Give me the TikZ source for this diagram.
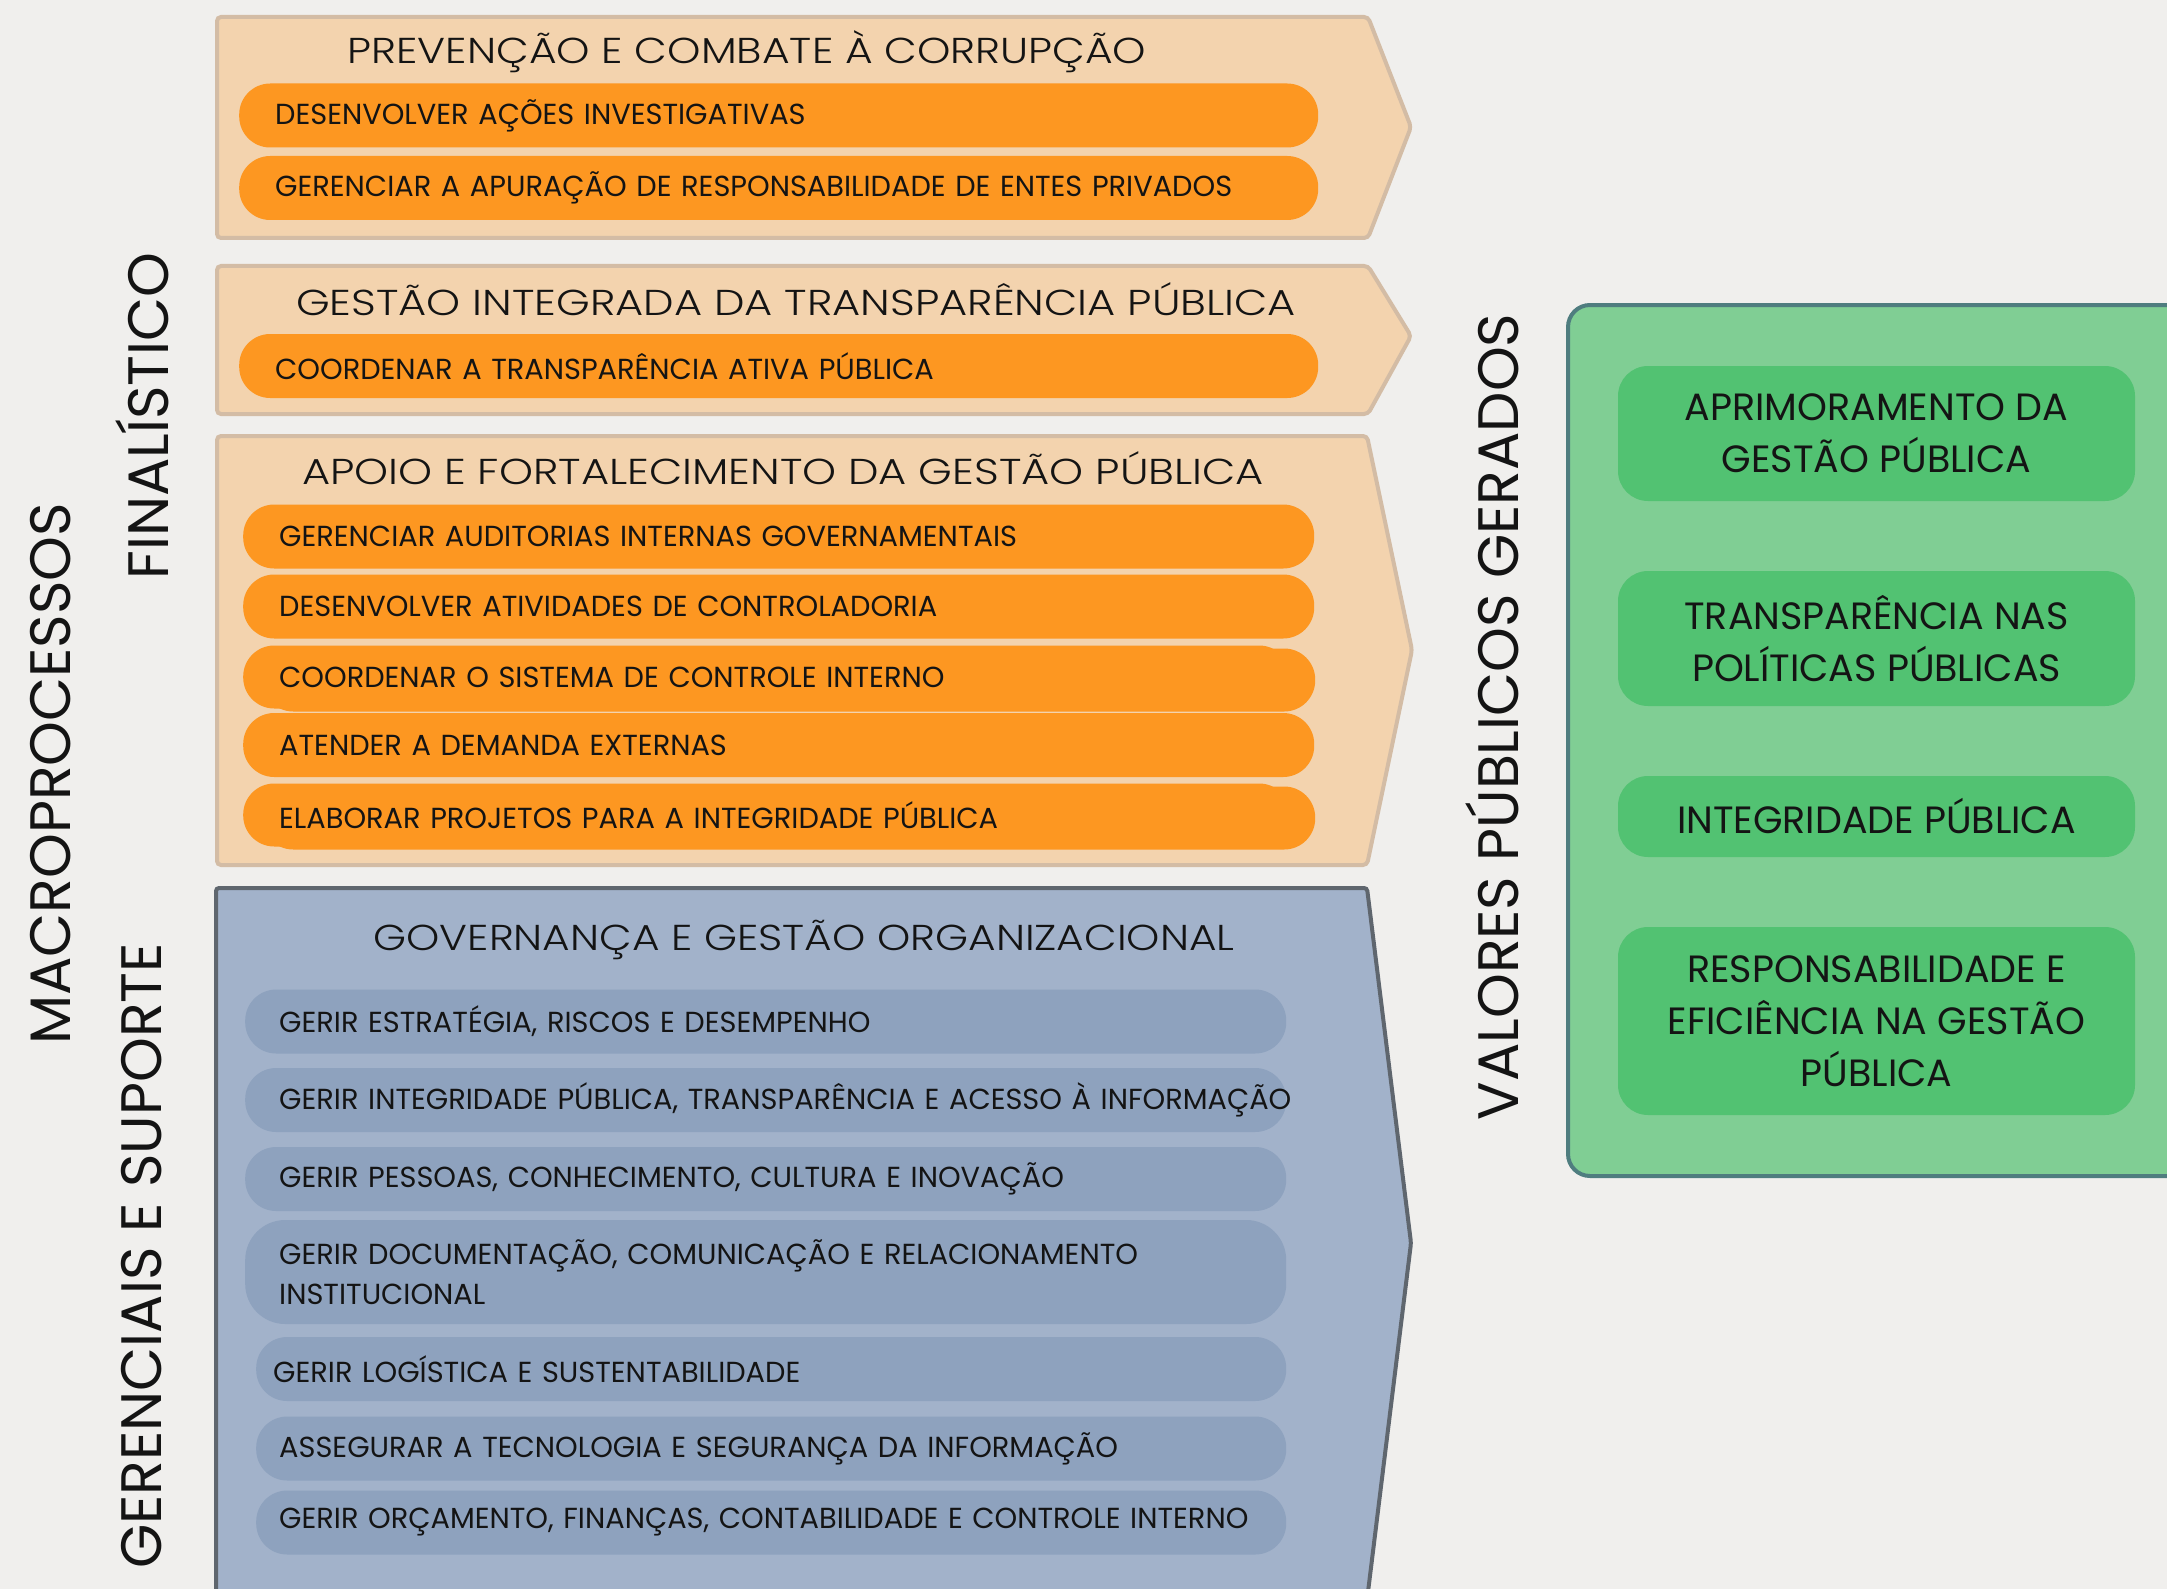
\documentclass[tikz,border=0pt]{standalone}
\usepackage{fontspec}
\setmainfont{Poppins}
\newfontfamily\titlefont{Poppins Light}
\usepackage{graphicx}
\definecolor{bgc}{HTML}{F0EFED}
\definecolor{tanfill}{HTML}{F3D3AE}
\definecolor{tanline}{HTML}{D3BCA5}
\definecolor{orng}{HTML}{FD9721}
\definecolor{bluefill}{HTML}{A2B2CA}
\definecolor{bluepill}{HTML}{8EA2BE}
\definecolor{blueline}{HTML}{5F666E}
\definecolor{grnfill}{HTML}{80CE94}
\definecolor{grnline}{HTML}{4F7D7F}
\definecolor{grnbox}{HTML}{52C272}
\definecolor{txt}{HTML}{141414}
\newcommand{\sq}[1]{\scalebox{0.994}[1]{#1}}
\newcommand{\wide}[2]{\scalebox{#1}[1]{#2}}
\begin{document}
\begin{tikzpicture}[x=1pt,y=-1pt,
  tanbanner/.style={fill=tanfill,draw=tanline,line width=4pt,rounded corners=4pt},
  bluebanner/.style={fill=bluefill,draw=blueline,line width=4pt,rounded corners=3pt},
  pillbase/.style={anchor=west,inner xsep=36pt,inner ysep=0pt,align=left,text=txt,
     font=\fontsize{29}{40}\selectfont,rounded corners=31pt},
  opill/.style={pillbase,fill=orng,minimum height=64pt},
  bpill/.style={pillbase,fill=bluepill,minimum height=64pt,inner xsep=34pt},
  btitle/.style={text=txt,font=\titlefont\fontsize{36}{40}\selectfont,inner sep=0pt},
  sidelabel/.style={text=txt,font=\fontsize{57}{60}\selectfont,rotate=90,inner sep=0pt},
  gbox/.style={fill=grnbox,rounded corners=30pt,minimum width=517pt,text=txt,
     align=center,font=\fontsize{38}{52}\selectfont,inner sep=0pt}
]
\fill[bgc] (0,0) rectangle (2167,1589);
\useasboundingbox (0,0) rectangle (2167,1589);
\clip (0,0) rectangle (2167,1589);

% banner 1
\draw[tanbanner] (217,17) -- (1368,17) -- (1411,127) -- (1368,238) -- (217,238) -- cycle;
\node[btitle] (t1) at (747,52) {\wide{1.18}{PREVENÇÃO E COMBATE À CORRUPÇÃO}};
\node[opill,text width=1007pt] (o1) at (239,115.5) {\sq{DESENVOLVER AÇÕES INVESTIGATIVAS}};
\node[opill,text width=1007pt] (o2) at (239,188) {\sq{GERENCIAR A APURAÇÃO DE RESPONSABILIDADE DE ENTES PRIVADOS}};

% banner 2
\draw[tanbanner] (217,266) -- (1368,266) -- (1411,336) -- (1368,414) -- (217,414) -- cycle;
\node[btitle] (t2) at (796,299) {\wide{1.2}{GESTÃO INTEGRADA DA TRANSPARÊNCIA PÚBLICA}};
\node[opill,text width=1007pt] (o3) at (239,366) {\sq{COORDENAR A TRANSPARÊNCIA ATIVA PÚBLICA}};

% banner 3
\draw[tanbanner] (217,436) -- (1367,436) -- (1412,650) -- (1367,865) -- (217,865) -- cycle;
\node[btitle] (t3) at (783,468) {\wide{1.2}{APOIO E FORTALECIMENTO DA GESTÃO PÚBLICA}};
\node[opill,text width=999pt] (o4) at (243,536.5) {\sq{GERENCIAR AUDITORIAS INTERNAS GOVERNAMENTAIS}};
\node[opill,text width=999pt] (o5) at (243,606.5) {\sq{DESENVOLVER ATIVIDADES DE CONTROLADORIA}};
\node[opill,text width=981pt,minimum height=63pt] (o6b) at (262,680) {};
\node[opill,text width=975pt,minimum height=63pt] (o6) at (243,677) {\sq{COORDENAR O SISTEMA DE CONTROLE INTERNO}};
\node[opill,text width=999pt] (o7) at (243,745) {\sq{ATENDER A DEMANDA EXTERNAS}};
\node[opill,text width=981pt,minimum height=63pt] (o8b) at (262,818) {};
\node[opill,text width=975pt,minimum height=63pt] (o8) at (243,815) {\sq{ELABORAR PROJETOS PARA A INTEGRIDADE PÚBLICA}};

% banner 4
\draw[bluebanner] (216,888) -- (1367,888) -- (1411,1243) -- (1367,1600) -- (216,1600) -- cycle;
\node[btitle] (t4) at (804,940) {\wide{1.175}{GOVERNANÇA E GESTÃO ORGANIZACIONAL}};
\node[bpill,text width=973pt] (b1) at (245,1021.5) {\sq{GERIR ESTRATÉGIA, RISCOS E DESEMPENHO}};
\node[bpill,text width=973pt] (b2) at (245,1100) {\sq{GERIR INTEGRIDADE PÚBLICA, TRANSPARÊNCIA E ACESSO À INFORMAÇÃO}};
\node[bpill,text width=973pt] (b3) at (245,1179) {\sq{GERIR PESSOAS, CONHECIMENTO, CULTURA E INOVAÇÃO}};
\node[bpill,text width=973pt,minimum height=104pt,rounded corners=40pt] (b4) at (245,1272) {\sq{GERIR DOCUMENTAÇÃO, COMUNICAÇÃO E RELACIONAMENTO}\\\sq{INSTITUCIONAL}};
\node[bpill,text width=996pt,inner xsep=17pt] (b5) at (256,1369) {\sq{GERIR LOGÍSTICA E SUSTENTABILIDADE}};
\node[bpill,text width=984pt,inner xsep=23pt] (b6) at (256,1448.5) {\sq{ASSEGURAR A TECNOLOGIA E SEGURANÇA DA INFORMAÇÃO}};
\node[bpill,text width=984pt,inner xsep=23pt] (b7) at (256,1522.5) {\sq{GERIR ORÇAMENTO, FINANÇAS, CONTABILIDADE E CONTROLE INTERNO}};

% side labels
\node[sidelabel] (mac) at (51,774) {MACROPROCESSOS};
\node[sidelabel] (fin) at (142,416) {FINALÍSTICO};
\node[sidelabel] (ger) at (142,1256) {GERENCIAIS E SUPORTE};
\node[sidelabel] (val) at (1492,717) {VALORES PÚBLICOS GERADOS};

% green panel
\draw[fill=grnfill,draw=grnline,line width=4pt,rounded corners=22pt] (1568,305) rectangle (2240,1176);
\node[gbox,minimum height=135pt] (g1) at (1876.5,433.5) {APRIMORAMENTO DA\\GESTÃO PÚBLICA};
\node[gbox,minimum height=135pt] (g2) at (1876.5,638.5) {TRANSPARÊNCIA NAS\\POLÍTICAS PÚBLICAS};
\node[gbox,minimum height=81pt] (g3) at (1876.5,816.5) {INTEGRIDADE PÚBLICA};
\node[gbox,minimum height=188pt] (g4) at (1876.5,1021) {RESPONSABILIDADE E\\EFICIÊNCIA NA GESTÃO\\PÚBLICA};
\end{tikzpicture}
\end{document}
